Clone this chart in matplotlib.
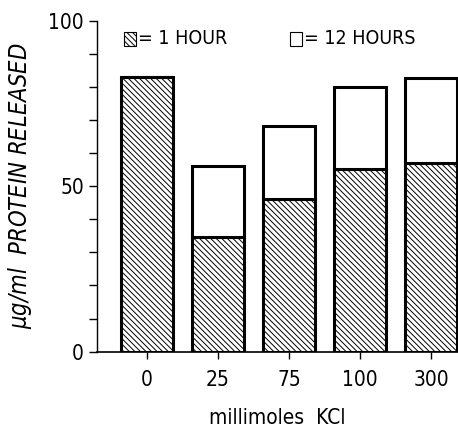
import matplotlib.pyplot as plt
from matplotlib.patches import Rectangle

# data
conc_labels = ["0", "25", "75", "100", "300"]
one_hour = [83, 34.5, 46, 55.3, 57]
twelve_hours = [83, 56.2, 68.2, 80, 82.7]

plt.rcParams['font.family'] = ['DejaVu Sans']
plt.rcParams['font.stretch'] = 'condensed'
plt.rcParams['hatch.linewidth'] = 0.7

fig = plt.figure(figsize=(4.58, 4.32), dpi=100)
ax = fig.add_axes([0.212, 0.186, 0.788, 0.766])

x = list(range(len(conc_labels)))
extra = [t - h for t, h in zip(twelve_hours, one_hour)]
w = 0.73

ax.bar(x, one_hour, width=w, color='white', edgecolor='black',
       hatch='\\' * 6, linewidth=2.2)
ax.bar(x, extra, bottom=one_hour, width=w, color='white', edgecolor='black',
       linewidth=2.2)

ax.set_xlim(-0.7, 4.38)
ax.set_ylim(0, 100)
ax.set_xticks(x)
ax.set_xticklabels(conc_labels)
ax.set_yticks([0, 50, 100])
ax.set_yticks(range(0, 101, 10), minor=True)
ax.tick_params(axis='both', which='both', direction='out', labelsize=15, width=1)
ax.tick_params(axis='y', which='both', length=6)
ax.tick_params(axis='x', length=5, pad=8)

for s in ['top', 'right']:
    ax.spines[s].set_visible(False)
ax.spines['bottom'].set_linewidth(1.2)
ax.spines['left'].set_linewidth(1)

ax.set_ylabel(r'$\mu$g/ml  PROTEIN RELEASED', fontsize=17, style='italic', labelpad=10)
ax.set_xlabel('millimoles  KCl', fontsize=15, labelpad=13)

# legend keys drawn by hand
ax.add_patch(Rectangle((0.075, 0.925), 0.033, 0.042, transform=ax.transAxes,
                       facecolor='white', edgecolor='black', hatch='\\' * 6,
                       linewidth=0.8, clip_on=False))
ax.text(0.112, 0.945, '= 1 HOUR', transform=ax.transAxes, fontsize=14, va='center')
ax.add_patch(Rectangle((0.535, 0.925), 0.033, 0.042, transform=ax.transAxes,
                       facecolor='white', edgecolor='black',
                       linewidth=0.8, clip_on=False))
ax.text(0.572, 0.945, '= 12 HOURS', transform=ax.transAxes, fontsize=14, va='center')

fig.savefig('out.png', dpi=100)
